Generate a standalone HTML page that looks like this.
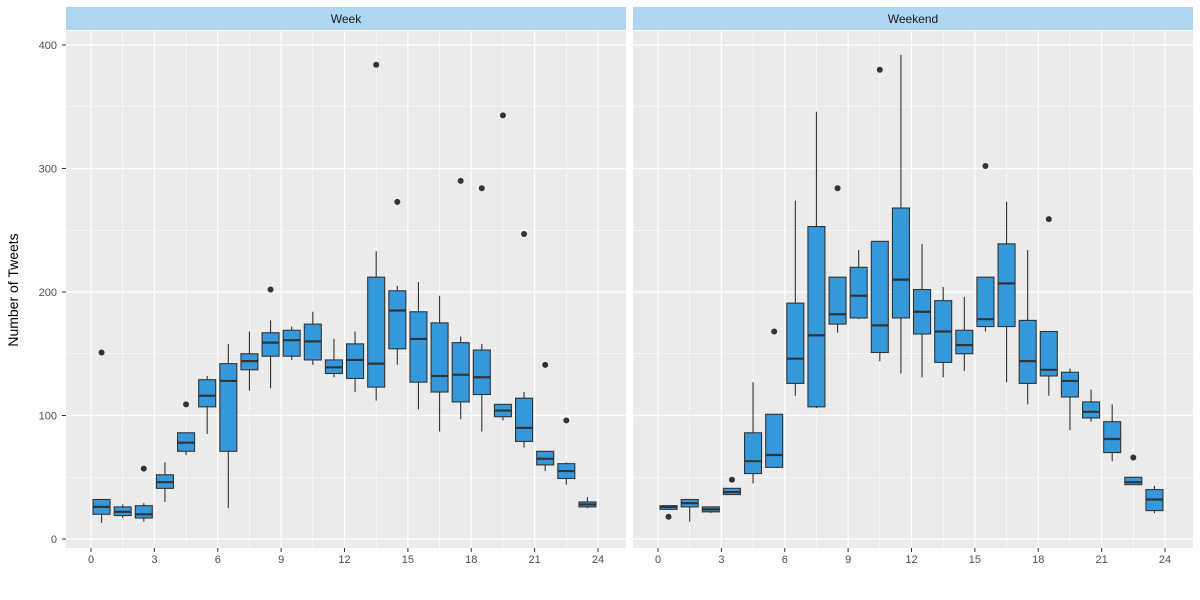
<!DOCTYPE html><html><head><meta charset="utf-8"><style>body{margin:0;background:#fff}svg{display:block}text{font-family:"Liberation Sans",sans-serif}</style></head><body>
<svg id="s" width="1200" height="600" xmlns="http://www.w3.org/2000/svg"></svg>
<script>
const W=[[13,20,26,32,32,[151]],[17,19,22,26,28],[14,17,20,27,29,[57]],[30,41,46,52,62],[68,71,78,86,86,[109]],[85,107,116,129,132],[25,71,128,142,158],[120,137,144,150,168],[122,148,159,167,177,[202]],[145,148,161,169,172],[141,145,160,174,184],[131,134,139,145,162],[119,130,145,158,168],[112,123,142,212,233,[384]],[141,154,185,201,205,[273]],[105,127,162,184,208],[87,119,132,175,197],[97,111,133,159,164,[290]],[87,117,131,153,158,[284]],[96,99,104,109,109,[343]],[74,79,90,114,119,[247]],[55,60,65,71,71,[141]],[44,49,55,61,62,[96]],[25,26,28,30,34]];
const E=[[24,24,26,27,27,[18]],[14,26,29,32,32],[21,22,24,26,26],[36,36,38,41,41,[48]],[45,53,63,86,127],[58,58,68,101,101,[168]],[116,126,146,191,274],[106,107,165,253,346],[167,174,182,212,212,[284]],[178,179,197,220,234],[144,151,173,241,241,[380]],[134,179,210,268,392],[131,166,184,202,239],[131,143,168,193,204],[136,150,157,169,196],[168,172,178,212,212,[302]],[127,172,207,239,273],[109,126,144,177,234],[116,132,137,168,168,[259]],[88,115,128,135,138],[95,98,103,111,121],[63,70,81,95,109],[44,44,46,50,50,[66]],[21,23,32,40,43]];
let h='';const Y=v=>539-v*1.235;
h+='<text x="18" y="290" font-size="14" fill="#000" text-anchor="middle" transform="rotate(-90 18 290)">Number of Tweets</text>';
[0,100,200,300,400].forEach(v=>{h+=`<text x="57" y="${Y(v)+4}" font-size="11" fill="#4d4d4d" text-anchor="end">${v}</text><line x1="62" x2="66" y1="${Y(v)}" y2="${Y(v)}" stroke="#333"/>`});
[[66,91,W,'Week'],[633,658,E,'Weekend']].forEach(([L,x0,D,t])=>{
 const X=v=>x0+v*21.125;
 h+=`<rect x="${L}" y="7" width="560" height="23" fill="#aed6f1"/><text x="${L+280}" y="23" font-size="12" fill="#1a1a1a" text-anchor="middle">${t}</text>`;
 h+=`<rect x="${L}" y="31" width="560" height="517" fill="#ebebeb"/>`;
 for(let v=50;v<=350;v+=100)h+=`<line x1="${L}" x2="${L+560}" y1="${Y(v)}" y2="${Y(v)}" stroke="#fff" stroke-width="0.6"/>`;
 for(let v=1.5;v<24;v+=3)h+=`<line y1="31" y2="548" x1="${X(v)}" x2="${X(v)}" stroke="#fff" stroke-width="0.6"/>`;
 for(let v=0;v<=400;v+=100)h+=`<line x1="${L}" x2="${L+560}" y1="${Y(v)}" y2="${Y(v)}" stroke="#fff" stroke-width="1.2"/>`;
 for(let v=0;v<=24;v+=3)h+=`<line y1="31" y2="548" x1="${X(v)}" x2="${X(v)}" stroke="#fff" stroke-width="1.2"/><line y1="548" y2="552" x1="${X(v)}" x2="${X(v)}" stroke="#333"/><text x="${X(v)}" y="563" font-size="11" fill="#4d4d4d" text-anchor="middle">${v}</text>`;
 D.forEach((d,i)=>{const c=X(i+.5);
  h+=`<line x1="${c}" x2="${c}" y1="${Y(d[0])}" y2="${Y(d[4])}" stroke="#333" stroke-width="1.1"/>`;
  h+=`<rect x="${c-8.5}" y="${Y(d[3])}" width="17" height="${Math.max(1,(d[3]-d[1])*1.235)}" fill="#3498db" stroke="#333" stroke-width="1.1"/>`;
  h+=`<line x1="${c-8.5}" x2="${c+8.5}" y1="${Y(d[2])}" y2="${Y(d[2])}" stroke="#333" stroke-width="2.2"/>`;
  (d[5]||[]).forEach(o=>h+=`<circle cx="${c}" cy="${Y(o)}" r="3" fill="#333"/>`);
 });
});
document.getElementById('s').innerHTML=h;
</script></body></html>
